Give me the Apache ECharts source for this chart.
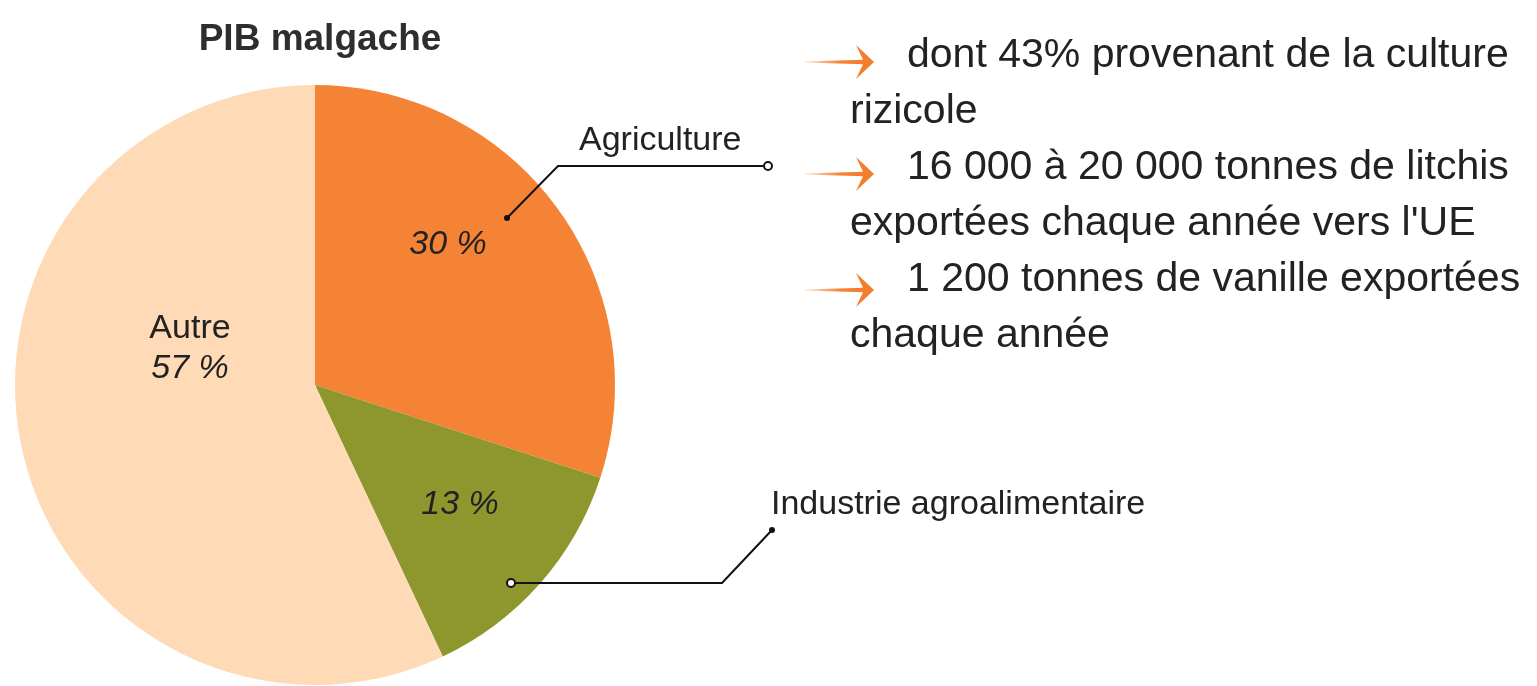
<!DOCTYPE html>
<html>
<head>
<meta charset="utf-8">
<script src="https://cdn.jsdelivr.net/npm/echarts@6/dist/echarts.min.js"></script>
<style>
  html, body { margin: 0; padding: 0; background: #fff; }
  #chart { width: 1537px; height: 686px; }
</style>
</head>
<body>
<div id="chart"></div>
<script>
// PIB malgache - share by sector
const sectors = ['Agriculture', 'Industrie agroalimentaire', 'Autre'];
const shares = [30, 13, 57];
const sliceColors = ['#f58335', '#8e972e', '#fedbb6'];

// notes on the right
const notes = [
  ['dont 43% provenant de la culture', 'rizicole'],
  ['16 000 à 20 000 tonnes de litchis', 'exportées chaque année vers l\'UE'],
  ['1 200 tonnes de vanille exportées', 'chaque année']
];

const CX = 315, CY = 385, R = 300;
const FONT = '"Liberation Sans", Arial, sans-serif';

// where the labels sit (by data index)
const innerPos = [[448, 245], [460, 505], [190, 349]];
const outerPos = [[579, 141], [771, 505]];
const leaders = [
  [[507, 218], [558, 166], [768, 166]],
  [[511, 583], [722, 583], [772, 530]]
];

const chart = echarts.init(document.getElementById('chart'));

const pieData = sectors.map((name, i) => ({
  name: name,
  value: shares[i],
  itemStyle: { color: sliceColors[i] }
}));

// orange arrows + note text
const graphics = [];
notes.forEach((lines, k) => {
  const y0 = 56 + k * 112;
  const ay = y0 + 6 + (k === 2 ? 4 : 0);
  graphics.push({
    type: 'polygon',
    shape: {
      points: [[805, ay - 0.5], [863, ay - 2.2], [856, ay - 17], [874, ay], [856, ay + 17], [863, ay + 2.2], [805, ay + 0.5]]
    },
    style: {
      fill: new echarts.graphic.LinearGradient(0, 0, 1, 0, [
        { offset: 0, color: 'rgba(245,131,53,0.2)' },
        { offset: 0.5, color: '#f58335' },
        { offset: 1, color: '#f47b2a' }
      ])
    }
  });
  graphics.push({
    type: 'text', x: 907, y: y0,
    style: { text: lines[0], font: '41px ' + FONT, fill: '#222', verticalAlign: 'middle' }
  });
  graphics.push({
    type: 'text', x: 850, y: y0 + 56,
    style: { text: lines[1], font: '41px ' + FONT, fill: '#222', verticalAlign: 'middle' }
  });
});

// leader line end markers
leaders.forEach((pts, i) => {
  const filled = i === 0 ? pts[0] : pts[2];
  const open = i === 0 ? pts[2] : pts[0];
  graphics.push({ type: 'circle', z: 20, shape: { cx: filled[0], cy: filled[1], r: 3 }, style: { fill: '#111' } });
  graphics.push({ type: 'circle', z: 20, shape: { cx: open[0], cy: open[1], r: 4 }, style: { fill: '#fff', stroke: '#111', lineWidth: 2 } });
});

const option = {
  backgroundColor: '#fff',
  animation: false,
  title: {
    text: 'PIB malgache',
    left: CX,
    top: 16,
    textAlign: 'center',
    textStyle: { fontFamily: FONT, fontWeight: 'bold', fontSize: 37, color: '#2e2e2e' }
  },
  series: [
    {
      type: 'pie',
      center: [CX, CY],
      radius: R,
      startAngle: 90,
      clockwise: true,
      silent: true,
      avoidLabelOverlap: false,
      data: pieData,
      label: {
        show: true,
        position: 'inside',
        formatter: (p) => p.dataIndex === 2
          ? '{n|' + p.name + '}\n{p|' + p.value + ' %}'
          : '{p|' + p.value + ' %}',
        rich: {
          n: { fontFamily: FONT, fontSize: 34, color: '#222', lineHeight: 40 },
          p: { fontFamily: FONT, fontSize: 34, fontStyle: 'italic', color: '#222', lineHeight: 40 }
        }
      },
      labelLine: { show: false },
      labelLayout: (p) => ({
        x: innerPos[p.dataIndex][0],
        y: innerPos[p.dataIndex][1],
        align: 'center',
        verticalAlign: 'middle'
      })
    },
    {
      // transparent copy carrying the outside labels and leader lines
      type: 'pie',
      center: [CX, CY],
      radius: R,
      startAngle: 90,
      clockwise: true,
      silent: true,
      avoidLabelOverlap: false,
      z: 5,
      data: sectors.map((name, i) => ({
        name: name,
        value: shares[i],
        itemStyle: { color: 'transparent' },
        label: { show: i < 2 },
        labelLine: { show: i < 2 }
      })),
      label: {
        position: 'outside',
        formatter: '{b}',
        fontFamily: FONT,
        fontSize: 34,
        color: '#222'
      },
      labelLine: { lineStyle: { color: '#111', width: 2 } },
      labelLayout: (p) => {
        if (p.dataIndex > 1) return {};
        return {
          x: outerPos[p.dataIndex][0],
          y: outerPos[p.dataIndex][1],
          align: 'left',
          verticalAlign: 'middle',
          labelLinePoints: leaders[p.dataIndex]
        };
      }
    }
  ],
  graphic: graphics
};

chart.setOption(option);
</script>
</body>
</html>
